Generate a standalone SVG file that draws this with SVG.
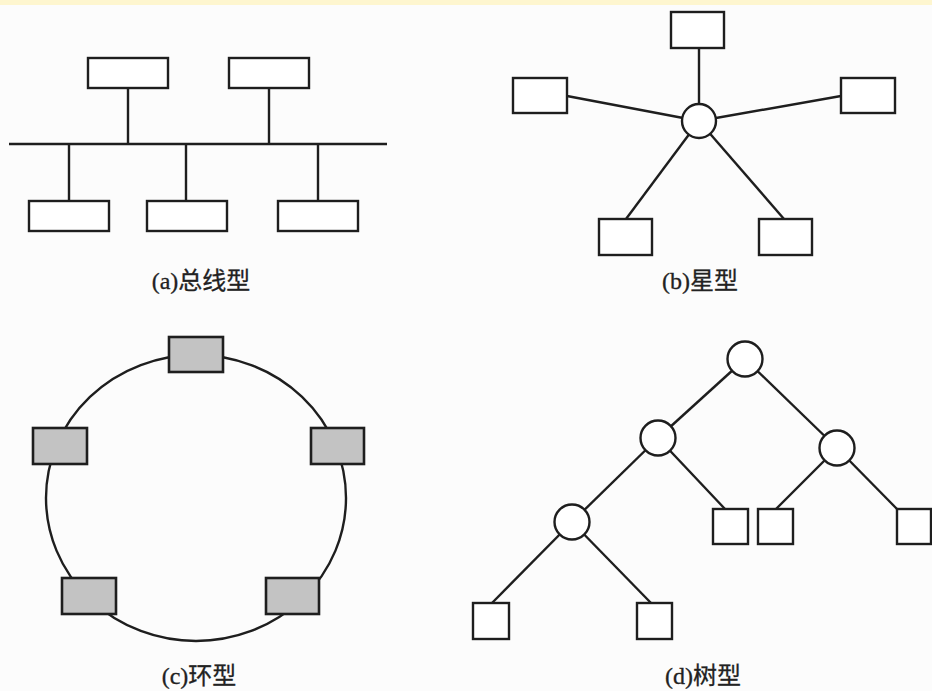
<svg xmlns="http://www.w3.org/2000/svg" width="932" height="691" viewBox="0 0 932 691">
<style>
.bg{fill:#fcfcfc}
.ln{stroke:#1e1e1e;stroke-width:2.4;fill:none}
.box{fill:#fff;stroke:#1e1e1e;stroke-width:2.4}
.gbox{fill:#c3c3c3;stroke:#1e1e1e;stroke-width:2.6}
.hub{fill:#fff;stroke:#1e1e1e;stroke-width:2.4}
.lbl{font-family:"Liberation Serif","Noto Sans CJK SC",serif;font-size:24px;fill:#222;stroke:#222;stroke-width:0.3;text-anchor:middle}
</style>
<rect class="bg" x="0" y="0" width="932" height="691"/>
<rect x="0" y="0" width="932" height="5" fill="#fef6cf"/>

<g id="connectors">
  <!-- (a) bus -->
  <line class="ln" x1="9" y1="144" x2="387" y2="144"/>
  <line class="ln" x1="128" y1="88" x2="128" y2="144"/>
  <line class="ln" x1="269" y1="88" x2="269" y2="144"/>
  <line class="ln" x1="69" y1="144" x2="69" y2="201"/>
  <line class="ln" x1="186" y1="144" x2="186" y2="201"/>
  <line class="ln" x1="318" y1="144" x2="318" y2="201"/>
  <!-- (b) star -->
  <line class="ln" x1="699" y1="48" x2="699" y2="121"/>
  <line class="ln" x1="567" y1="96" x2="699" y2="121"/>
  <line class="ln" x1="841" y1="96" x2="699" y2="121"/>
  <line class="ln" x1="626" y1="219" x2="699" y2="121"/>
  <line class="ln" x1="784" y1="219" x2="699" y2="121"/>
  <!-- (c) ring -->
  <ellipse class="ln" cx="196" cy="498" rx="150" ry="143"/>
  <!-- (d) tree -->
  <line class="ln" x1="745" y1="359" x2="658" y2="438"/>
  <line class="ln" x1="745" y1="359" x2="837" y2="448"/>
  <line class="ln" x1="658" y1="438" x2="572" y2="522"/>
  <line class="ln" x1="658" y1="438" x2="725" y2="509"/>
  <line class="ln" x1="837" y1="448" x2="776" y2="509"/>
  <line class="ln" x1="837" y1="448" x2="897" y2="509"/>
  <line class="ln" x1="572" y1="522" x2="492" y2="603"/>
  <line class="ln" x1="572" y1="522" x2="651" y2="603"/>
</g>

<g id="bus-top1"><rect class="box" x="88" y="58" width="80" height="30"/></g>
<g id="bus-top2"><rect class="box" x="229" y="58" width="80" height="30"/></g>
<g id="bus-bot1"><rect class="box" x="29" y="201" width="80" height="30"/></g>
<g id="bus-bot2"><rect class="box" x="147" y="201" width="80" height="30"/></g>
<g id="bus-bot3"><rect class="box" x="278" y="201" width="80" height="30"/></g>
<g id="label-a"><text class="lbl" x="201" y="289">(a)总线型</text></g>

<g id="star-hub"><circle class="hub" cx="699" cy="121" r="17"/></g>
<g id="star-top"><rect class="box" x="671" y="12" width="53" height="36"/></g>
<g id="star-left"><rect class="box" x="513" y="78" width="54" height="35"/></g>
<g id="star-right"><rect class="box" x="841" y="78" width="54" height="35"/></g>
<g id="star-bl"><rect class="box" x="599" y="219" width="53" height="36"/></g>
<g id="star-br"><rect class="box" x="759" y="219" width="53" height="36"/></g>
<g id="label-b"><text class="lbl" x="700" y="289">(b)星型</text></g>

<g id="ring-top"><rect class="gbox" x="169" y="337" width="54" height="35"/></g>
<g id="ring-left"><rect class="gbox" x="33" y="428" width="54" height="36"/></g>
<g id="ring-right"><rect class="gbox" x="311" y="428" width="53" height="36"/></g>
<g id="ring-bl"><rect class="gbox" x="62" y="578" width="54" height="36"/></g>
<g id="ring-br"><rect class="gbox" x="266" y="578" width="53" height="36"/></g>
<g id="label-c"><text class="lbl" x="199" y="684">(c)环型</text></g>

<g id="tree-root"><circle class="hub" cx="745" cy="359" r="17.5"/></g>
<g id="tree-l"><circle class="hub" cx="658" cy="438" r="17.5"/></g>
<g id="tree-r"><circle class="hub" cx="837" cy="448" r="17.5"/></g>
<g id="tree-ll"><circle class="hub" cx="572" cy="522" r="17.5"/></g>
<g id="tree-s1"><rect class="box" x="713" y="509" width="35" height="35"/></g>
<g id="tree-s2"><rect class="box" x="758" y="509" width="35" height="35"/></g>
<g id="tree-s3"><rect class="box" x="897" y="509" width="34" height="35"/></g>
<g id="tree-s4"><rect class="box" x="473" y="603" width="36" height="36"/></g>
<g id="tree-s5"><rect class="box" x="637" y="603" width="35" height="36"/></g>
<g id="label-d"><text class="lbl" x="703" y="684">(d)树型</text></g>
</svg>
